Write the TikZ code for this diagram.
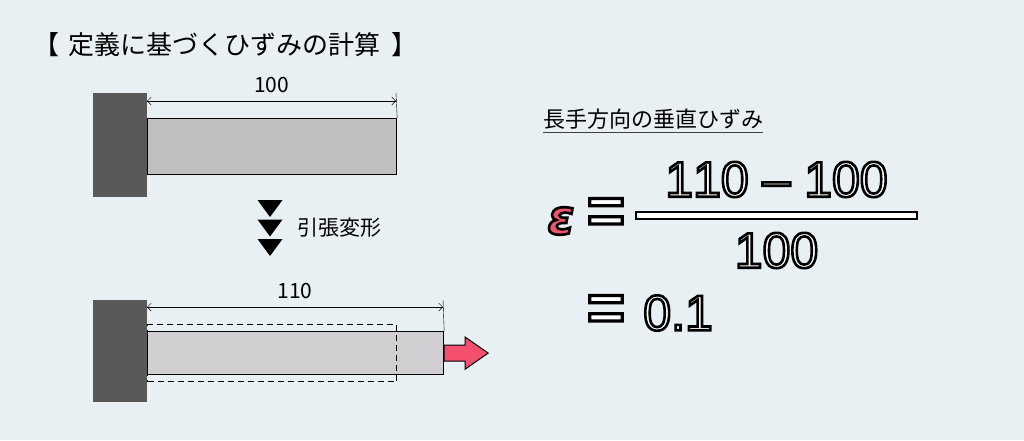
\documentclass[tikz,border=0pt]{standalone}
\usepackage{fontspec}
\usepackage{graphicx}
\setmainfont{Noto Sans CJK JP}
\newfontfamily\numfont[Kerning=Off]{Liberation Sans}
\newfontfamily\epsfont{DejaVu Sans}
\usetikzlibrary{arrows.meta,positioning}

\definecolor{bggray}{RGB}{232,240,243}
\definecolor{wallgray}{RGB}{89,89,89}
\definecolor{bargray}{RGB}{191,191,191}
\definecolor{barlight}{RGB}{208,206,208}
\definecolor{pullred}{RGB}{242,80,110}
\definecolor{epspink}{RGB}{236,84,108}

% outlined text: fill in current colour, black stroke
\newcommand{\outl}[1]{\special{pdf:literal direct 2 Tr 2.6 w 0 0 0 RG}#1\special{pdf:literal direct 0 Tr 0.4 w}}

\begin{document}
\begin{tikzpicture}[
  x=1pt, y=-1pt,
  wall/.style={rectangle, fill=wallgray, inner sep=0pt, minimum width=54pt, anchor=north west},
  bar/.style={rectangle, draw, line width=1.2pt, inner sep=0pt, anchor=north west},
  dimline/.style={thin, {Straight Barb[length=4pt,width=8pt]}-{Straight Barb[length=4pt,width=8pt]}},
  label/.style={font=\fontsize{21}{21}\selectfont, inner sep=0pt},
  big/.style={font=\numfont\fontsize{50}{50}\selectfont, inner sep=0pt, text=white},
  equal/.style={font=\numfont\bfseries\fontsize{54}{54}\selectfont, inner sep=0pt, text=white}
]
% Background
\fill[bggray] (0,0) rectangle (1024,440);
\useasboundingbox (0,0) rectangle (1024,440);

% Title
\node[anchor=west, inner sep=0pt, font=\fontsize{26}{26}\selectfont] (title) at (33,45) {【\hspace{9pt}定義に基づくひずみの計算\hspace{11pt}】};

% Before deformation
\node[bar, fill=bargray, minimum width=249pt, minimum height=56pt] (barA) at (147,118) {};
\node[wall, minimum height=104pt] (wallA) at (93,93) {};
\coordinate (tickA) at (396,93);
\coordinate (dimAl) at (147,101);
\coordinate (dimAr) at (396,101);
\draw[thin] (barA.north east) -- (tickA);
\draw[dimline] (dimAl) -- node[label, above=8pt] (lenA) {100} (dimAr);

% Deformation marks
\foreach \t in {200,219.5,239}
  \fill (257.5,\t) -- (282.5,\t) -- (270,\t+17) -- cycle;
\node[label, anchor=west] (pull) at (297,228) {引張変形};

% After deformation
\node[bar, fill=barlight, minimum width=296pt, minimum height=43pt] (barB) at (147,331) {};
\node[bar, dash pattern=on 6pt off 4pt, line width=1.2pt, minimum width=249pt, minimum height=57pt] (orig) at (147,324) {};
\node[wall, minimum height=102pt] (wallB) at (93,300) {};
\coordinate (tickB) at (443,300);
\coordinate (dimBl) at (147,307);
\coordinate (dimBr) at (443,307);
\draw[thin] (barB.north east) -- (tickB);
\draw[dimline] (dimBl) -- node[label, above=8pt] (lenB) {110} (dimBr);

% Pulling force
\draw[fill=pullred, line width=1pt] (barB.east) ++(0,-8) -- ++(21,0) -- ++(0,-8)
  -- ++(23,16) -- ++(-23,16) -- ++(0,-8) -- ++(-21,0) -- cycle;

% Strain calculation
\node[anchor=west, inner sep=0pt, font=\fontsize{22}{22}\selectfont] (head) at (543,119) {長手方向の垂直ひずみ};
\draw[line width=1.5pt, black!75] ([yshift=-5pt]head.base west) -- ([yshift=-5pt]head.base east);

\node[inner sep=0pt, font=\epsfont\bfseries\itshape\fontsize{48}{48}\selectfont, text=epspink] (eps) at (561,221) {\outl{ε}};
\node[equal] (eq1) at (606,216) {\scalebox{1.2}[1.25]{\outl{=}}};
\node[rectangle, draw, fill=white, line width=1.2pt, inner sep=0pt, minimum width=281pt, minimum height=7pt] (frac) at (776.5,215.5) {};
\node[big, above=14pt of frac] (num) {\outl{110 – 100}};
\node[big, below=13pt of frac] (den) {\outl{100}};
\node[equal] (eq2) at (606,313) {\scalebox{1.2}[1.25]{\outl{=}}};
\node[big, right=18pt of eq2] (res) {\outl{0.1}};
\end{tikzpicture}
\end{document}
